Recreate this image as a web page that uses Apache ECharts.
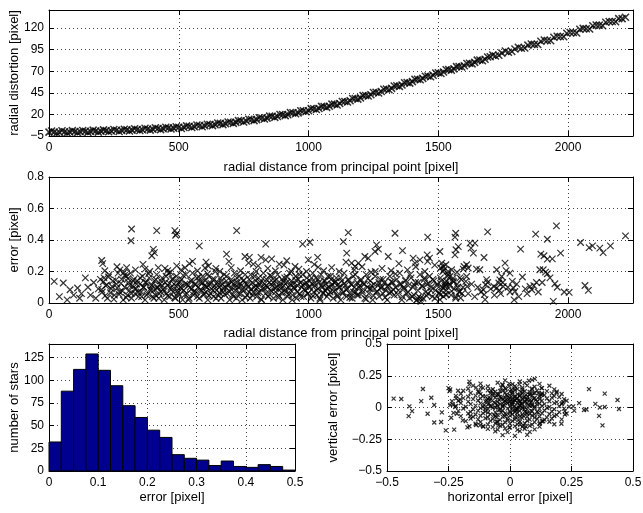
<!DOCTYPE html>
<html><head><meta charset="utf-8">
<script src="https://cdn.jsdelivr.net/npm/echarts@6/dist/echarts.min.js"></script>
<style>html,body{margin:0;padding:0;background:#fff}#c{width:643px;height:513px}</style>
</head><body><div id="c"></div>
<script>
// ---- data ----
// top: radial distance [pixel] vs radial distortion [pixel]
const distortionPoints = [
[0,-0.5],[20,-0.3],[40,-0.6],[60,-0.1],[80,-0.3],[100,0.2],[120,-0.1],[140,0.5],[160,0.3],[180,0.8],
[200,0.6],[220,1.2],[240,0.9],[260,1.6],[280,1.4],[300,2.1],[320,1.8],[340,2.6],[360,2.3],[380,3.1],
[400,2.9],[420,3.7],[440,3.3],[460,4.4],[480,4.1],[500,5.2],[520,4.9],[540,6.2],[560,5.8],[580,7.2],
[600,6.8],[620,8.3],[640,8.0],[660,9.6],[680,9.3],[700,11.0],[720,10.8],[740,12.6],[760,12.3],[780,14.2],
[800,14.0],[820,15.9],[840,15.7],[860,17.8],[880,17.6],[900,19.8],[920,19.6],[940,22.0],[960,21.8],[980,24.3],
[1000,24.2],[1020,26.6],[1040,26.9],[1060,29.2],[1080,29.4],[1100,31.9],[1120,32.6],[1140,35.0],[1160,35.9],[1180,38.4],
[1200,39.2],[1220,42.0],[1240,42.8],[1260,45.6],[1280,46.5],[1300,49.4],[1320,50.2],[1340,53.2],[1360,54.1],[1380,57.0],
[1400,58.0],[1420,60.8],[1440,61.8],[1460,64.5],[1480,65.4],[1500,68.2],[1520,69.2],[1540,71.9],[1560,72.8],[1580,75.6],
[1600,76.5],[1620,79.4],[1640,80.3],[1660,83.1],[1680,84.0],[1700,86.9],[1720,87.6],[1745,91.0],[1770,92.0],[1795,95.8],
[1820,96.6],[1845,100.3],[1870,101.2],[1895,104.8],[1920,105.6],[1945,109.4],[1970,110.3],[1995,114.0],[2020,114.9],[2045,118.6],
[2070,119.2],[2095,122.8],[2120,123.5],[2145,126.9],[2170,127.6],[2195,131.0],[2221,132.6],
[10,0.8],[30,-1.6],[50,1.0],[70,-1.4],[90,1.2],[110,-1.1],[130,1.4],[150,-0.8],[170,1.8],[190,-0.5],
[210,2.1],[230,-0.1],[250,2.5],[270,0.3],[290,2.9],[310,0.7],[330,3.4],[350,1.3],[370,3.9],[390,1.8],
[410,4.5],[430,2.4],[450,5.2],[470,3.1],[490,5.8],[510,3.8],[530,6.7],[550,4.8],[570,7.7],[590,5.8],
[610,8.7],[630,7.0],[650,10.0],[670,8.2],[690,11.3],[710,9.6],[730,12.8],[750,11.2],[770,14.4],[790,12.8],
[810,16.1],[830,14.6],[850,18.0],[870,16.6],[890,19.9],[910,18.6],[930,22.1],[950,20.8],[970,24.3],[990,23.0],
[1010,26.7],[1030,25.6],[1050,29.3],[1070,28.2],[1090,31.9],[1110,30.9],[1130,35.0],[1150,34.3],[1170,38.4],[1190,37.7],
[1210,41.8],[1230,41.3],[1250,45.5],[1270,44.9],[1290,49.2],[1310,48.7],[1330,53.0],[1350,52.5],[1370,56.8],[1390,56.3],
[1410,60.6],[1430,60.1],[1450,64.3],[1470,63.7],[1490,68.0],[1510,67.4],[1530,71.7],[1550,71.2],[1570,75.4],[1590,74.9],
[1610,79.1],[1630,78.6],[1650,82.9],[1670,82.3],[1690,86.6],[1710,88.9],[1733,88.6],[1758,93.6],[1783,92.9],[1808,97.8],
[1833,96.9],[1858,101.5],[1883,101.0],[1908,106.2],[1933,105.4],[1958,110.6],[1983,110.0],[2008,114.9],[2033,114.3],[2058,119.7],
[2083,118.9],[2108,123.6],[2133,122.8],[2158,127.6],[2183,127.3],[2208,131.0]
];
// middle: radial distance [pixel] vs error [pixel]
const errorPoints = [
[20,0.137],[40,0.04],[55,0.127],[70,0.02],[81,0.084],[95,0.05],[110,0.095],[118,0.03],
[125,0.06],[140,0.16],[150,0.1],[160,0.05],[172,0.13],[180,0.03],[190,0.09],[198,0.15],
[203,0.27],[207,0.25],[273,0.21],[299,0.225],[318,0.47],[316,0.395],[415,0.46],[402,0.34],[406,0.32],[396,0.30],
[485,0.46],[492,0.44],[488,0.43],[579,0.363],[723,0.46],[684,0.31],[835,0.374],[977,0.374],[1005,0.386],[999,0.274],
[1035,0.29],[916,0.268],[835,0.274],[858,0.28],[817,0.29],[755,0.295],[772,0.29],[553,0.264],[605,0.26],[693,0.264],
[370,0.215],[447,0.22],[457,0.206],[492,0.236],[524,0.224],[601,0.222],[643,0.22],[787,0.247],[806,0.236],[887,0.247],
[948,0.232],[1037,0.228],
[215,0.205],[262,0.23],[289,0.195],[333,0.21],[362,0.245],[388,0.2],[421,0.225],[468,0.195],[509,0.21],[541,0.25],
[572,0.205],[614,0.235],[658,0.2],[702,0.225],[738,0.205],[769,0.255],[798,0.2],[843,0.22],[872,0.205],[905,0.24],
[934,0.2],[963,0.215],[992,0.2],[1022,0.245],[1058,0.205],[1089,0.225],[1118,0.2],[1144,0.26],[1176,0.21],[1206,0.23],
[1241,0.195],[1283,0.22],[1318,0.205],[1348,0.25],[1381,0.21],[1413,0.23],[1448,0.2],[1486,0.24],[1572,0.195],[1596,0.215],
[205,0.07],[212,0.16],[218,0.11],[225,0.03],[232,0.18],[240,0.09],[246,0.14],[252,0.05],[260,0.12],[266,0.19],[272,0.07],[280,0.15],[286,0.02],[292,0.1],[298,0.17],
[302,0.05],[306,0.13],[310,0.08],[314,0.19],[318,0.03],[322,0.11],[327,0.15],[331,0.06],[336,0.09],[340,0.14],[345,0.04],[350,0.12],[355,0.07],[360,0.17],[365,0.1],[370,0.02],[375,0.13],[380,0.06],[386,0.16],[390,0.09],[395,0.11],[399,0.04],
[403,0.08],[407,0.14],[411,0.05],[415,0.18],[419,0.1],[423,0.03],[427,0.12],[431,0.07],[436,0.16],[440,0.09],[444,0.02],[448,0.13],[452,0.06],[457,0.11],[461,0.19],[465,0.04],[470,0.1],[474,0.15],[478,0.07],[482,0.12],[487,0.03],[491,0.17],[495,0.08],[499,0.13],
[503,0.05],[507,0.1],[511,0.15],[515,0.02],[519,0.08],[523,0.12],[528,0.18],[532,0.06],[536,0.11],[540,0.03],[545,0.14],[549,0.09],[553,0.19],[557,0.05],[562,0.12],[566,0.07],[570,0.16],[575,0.1],[579,0.03],[583,0.13],[588,0.08],[592,0.17],[596,0.05],[599,0.11],
[602,0.14],[605,0.07],[609,0.1],[612,0.02],[616,0.17],[619,0.12],[623,0.06],[627,0.09],[630,0.15],[634,0.04],[638,0.11],[641,0.2],[645,0.08],[649,0.13],[652,0.05],[656,0.1],[660,0.16],[663,0.03],[667,0.12],[671,0.07],[675,0.18],[679,0.1],[683,0.14],[687,0.06],[691,0.11],[696,0.02],
[700,0.09],[703,0.15],[707,0.05],[711,0.12],[714,0.19],[718,0.08],[722,0.03],[725,0.13],[729,0.1],[733,0.17],[737,0.06],[741,0.11],[744,0.02],[748,0.14],[752,0.08],[756,0.18],[760,0.12],[763,0.05],[767,0.1],[771,0.15],[775,0.03],[779,0.09],[783,0.13],[787,0.07],[792,0.17],[796,0.11],
[800,0.04],[804,0.1],[807,0.16],[811,0.07],[815,0.13],[819,0.02],[822,0.09],[826,0.19],[830,0.12],[834,0.06],[838,0.15],[842,0.1],[845,0.04],[849,0.13],[853,0.08],[857,0.17],[861,0.11],[865,0.03],[869,0.14],[873,0.07],[877,0.1],[881,0.18],[885,0.05],[889,0.12],[893,0.09],[897,0.15],
[901,0.02],[904,0.11],[908,0.16],[912,0.07],[916,0.13],[919,0.04],[923,0.1],[927,0.19],[931,0.08],[935,0.14],[938,0.05],[942,0.12],[946,0.09],[950,0.17],[954,0.03],[957,0.11],[961,0.15],[965,0.06],[969,0.13],[973,0.1],[977,0.18],[981,0.04],[985,0.12],[989,0.08],[993,0.16],[997,0.06],
[1001,0.1],[1005,0.14],[1009,0.03],[1013,0.12],[1016,0.19],[1020,0.07],[1024,0.11],[1028,0.16],[1032,0.05],[1036,0.09],[1040,0.13],[1044,0.02],[1048,0.18],[1052,0.1],[1056,0.06],[1060,0.14],[1063,0.08],[1067,0.12],[1071,0.04],[1075,0.17],[1079,0.1],[1083,0.07],[1087,0.15],[1091,0.11],[1095,0.03],[1099,0.13],
[1103,0.08],[1107,0.16],[1111,0.05],[1115,0.12],[1120,0.1],[1124,0.02],[1128,0.14],[1133,0.07],[1137,0.19],[1141,0.11],[1146,0.04],[1150,0.09],[1154,0.15],[1159,0.06],[1163,0.12],[1168,0.03],[1172,0.17],[1177,0.1],[1182,0.07],[1187,0.13],[1192,0.05],[1197,0.11],
[1202,0.15],[1207,0.08],[1212,0.12],[1217,0.03],[1222,0.18],[1227,0.1],[1232,0.06],[1237,0.14],[1242,0.09],[1247,0.02],[1252,0.12],[1257,0.17],[1262,0.07],[1267,0.11],[1272,0.04],[1277,0.15],[1282,0.1],[1287,0.06],[1292,0.13],[1297,0.08],
[1303,0.02],[1308,0.11],[1313,0.17],[1319,0.07],[1324,0.13],[1330,0.05],[1335,0.1],[1340,0.15],[1346,0.08],[1351,0.19],[1356,0.12],[1362,0.04],[1367,0.09],[1373,0.14],[1378,0.06],[1384,0.11],[1389,0.03],[1395,0.16],
[1402,0.1],[1407,0.05],[1412,0.13],[1417,0.02],[1421,0.08],[1425,0.04],[1429,0.18],[1433,0.01],[1437,0.11],[1441,0.03],[1446,0.15],[1451,0.07],[1456,0.12],[1461,0.06],[1466,0.17],[1472,0.1],[1477,0.04],[1483,0.14],[1489,0.08],[1495,0.12],
[1502,0.06],[1508,0.16],[1514,0.1],[1520,0.04],[1526,0.13],[1531,0.08],[1537,0.18],[1543,0.11],[1549,0.05],[1555,0.14],[1561,0.09],[1567,0.03],[1573,0.12],[1580,0.07],[1588,0.15],[1595,0.1],
[1615,0.06],[1628,0.12],[1640,0.04],[1652,0.1],[1664,0.07],[1690,0.13],[1702,0.09],[1716,0.05],[1740,0.06],[1748,0.13],[1768,0.1],[1776,0.07],[1802,0.12],[1810,0.04],[1835,0.09],[1842,0.06],[1868,0.11],[1885,0.07],[1900,0.13],[1930,0.16],[1958,0.1],[1985,0.07],
[203,0.085],[209,0.135],[216,0.045],[223,0.115],[229,0.165],[237,0.065],[243,0.105],[250,0.025],[257,0.145],[263,0.095],[270,0.055],[277,0.125],[283,0.075],[291,0.175],[297,0.035],[304,0.155],[311,0.11],[317,0.06],[324,0.14],[330,0.09],
[338,0.12],[344,0.07],[351,0.16],[357,0.04],[364,0.1],[371,0.13],[377,0.05],[384,0.185],[391,0.08],[397,0.115],[404,0.03],[411,0.15],[417,0.095],[424,0.06],[431,0.14],[437,0.11],[444,0.075],[451,0.17],[457,0.045],[464,0.125],
[471,0.085],[477,0.155],[484,0.035],[491,0.105],[497,0.065],[504,0.135],[511,0.09],[517,0.175],[524,0.055],[531,0.12],[537,0.02],[544,0.1],[551,0.145],[557,0.07],[564,0.115],[571,0.04],[577,0.165],[584,0.085],[591,0.13],[597,0.06],
[604,0.105],[611,0.185],[617,0.045],[624,0.125],[631,0.08],[637,0.15],[644,0.03],[651,0.11],[657,0.065],[664,0.14],[671,0.095],[677,0.055],[684,0.17],[691,0.12],[697,0.075],[704,0.135],[711,0.04],[717,0.1],[724,0.16],[731,0.06],
[737,0.125],[744,0.085],[751,0.145],[757,0.035],[764,0.115],[771,0.07],[777,0.18],[784,0.05],[791,0.1],[797,0.14],[804,0.065],[811,0.12],[817,0.025],[824,0.155],[831,0.09],[837,0.11],[844,0.045],[851,0.175],[857,0.075],[864,0.13],
[871,0.095],[877,0.15],[884,0.035],[891,0.105],[897,0.065],[904,0.135],[911,0.085],[917,0.165],[924,0.055],[931,0.12],[937,0.02],[944,0.1],[951,0.145],[957,0.07],[964,0.18],[971,0.04],[977,0.115],[984,0.085],[991,0.13],[997,0.06],
[1004,0.105],[1011,0.16],[1017,0.045],[1024,0.125],[1031,0.08],[1037,0.15],[1044,0.03],[1051,0.11],[1057,0.065],[1064,0.14],[1071,0.095],[1077,0.055],[1084,0.17],[1091,0.12],[1097,0.075],[1104,0.135],[1111,0.04],[1117,0.1],[1124,0.16],[1131,0.06],
[1138,0.125],[1145,0.085],[1152,0.145],[1159,0.035],[1166,0.115],[1173,0.07],[1180,0.18],[1187,0.05],[1194,0.1],[1201,0.14],[1208,0.065],[1215,0.12],[1222,0.025],[1229,0.155],[1236,0.09],[1243,0.11],[1250,0.045],[1257,0.2],[1264,0.075],[1271,0.13],
[1279,0.095],[1287,0.15],[1295,0.035],[1303,0.105],[1311,0.065],[1319,0.135],[1327,0.085],[1335,0.185],[1343,0.055],[1351,0.12],[1359,0.02],[1367,0.1],[1375,0.145],[1383,0.07],[1391,0.18],[1399,0.04],[1407,0.115],[1415,0.015],[1423,0.13],[1431,0.03],
[1439,0.105],[1447,0.16],[1455,0.045],[1463,0.125],[1471,0.08],[1479,0.15],[1487,0.03],[1495,0.11],[1503,0.065],[1511,0.14],[1519,0.095],[1527,0.055],[1535,0.17],[1543,0.12],[1551,0.075],[1559,0.135],[1567,0.04],[1575,0.1],[1583,0.16],[1591,0.06],
[1153,0.447],[1134,0.39],[1333,0.443],[1459,0.418],[1567,0.443],[1564,0.418],[1690,0.452],[1875,0.437],[1920,0.405],[1955,0.49],
[2221,0.426],[2048,0.384],[2081,0.352],[2094,0.363],[2122,0.348],[2135,0.32],[2163,0.363],[2065,0.111],[2078,0.08],[2004,0.067],
[1943,0.01],[1949,0.122],[1971,0.317],[1895,0.31],[1907,0.3],[1920,0.279],[1939,0.28],[1891,0.211],[1904,0.211],[1913,0.196],
[1920,0.186],[1878,0.13],[1853,0.105],[1860,0.084],[1824,0.165],[1817,0.342],[1785,0.137],[1789,0.095],[1795,0.073],[1792,0.02],
[1757,0.253],[1761,0.206],[1725,0.211],[1776,0.19],[1744,0.168],[1737,0.147],[1733,0.127],[1714,0.105],[1725,0.095],[1735,0.08],
[1750,0.105],[1676,0.289],[1686,0.148],[1682,0.116],[1673,0.084],[1677,0.053],[1680,0.021],[1660,0.211],[1647,0.215],[1635,0.317],
[1626,0.348],[1622,0.38],[1641,0.38],[1609,0.243],[1599,0.232],[1615,0.222],[1609,0.168],[1606,0.137],[1611,0.105],[1583,0.073],
[1586,0.032],[1568,0.338],[1577,0.358],[1564,0.306],[1532,0.137],[1529,0.116],[1525,0.105],[1506,0.327],[1513,0.253],[1519,0.232],
[1522,0.211],[1509,0.222],[1529,0.243],[1517,0.2],[1538,0.2],[1545,0.168],[1557,0.158],[1551,0.211],[1506,0.021],[1509,0.053],
[1532,0.053],[1457,0.306],[1459,0.264],[1466,0.285],[1429,0.274],[1403,0.285],[1410,0.253],[1362,0.333],[1307,0.295],[1262,0.369],
[1269,0.342],[1256,0.327],[1217,0.295],[1230,0.285],[1147,0.317],[1166,0.253],[1179,0.232],[1192,0.253]
];
// bottom-left histogram of errors
const histBinLeft = [0,0.025,0.05,0.075,0.1,0.125,0.15,0.175,0.2,0.225,0.25,0.275,0.3,0.325,0.35,0.375,0.4,0.425,0.45,0.475];
const histBinWidth = 0.025;
const histCounts = [32,88,112,129,111,94,72,59,45,37,18,14,12,6,11,5,4,7,5,1];
// bottom-right: horizontal error vs vertical error [pixel]
const residualPoints = [
[-0.02,0.214],[0.04,0.205],[0.09,0.218],
[-0.12,0.188],[-0.05,0.195],[0.01,0.183],[0.06,0.192],[0.12,0.186],
[-0.15,0.172],[-0.09,0.165],[-0.03,0.176],[0.02,0.168],[0.07,0.174],[0.1,0.163],[0.16,0.171],
[-0.17,0.148],[-0.11,0.155],[-0.07,0.144],[-0.02,0.152],[0.03,0.146],[0.05,0.157],[0.09,0.149],[0.13,0.153],[0.18,0.143],
[-0.19,0.132],[-0.13,0.126],[-0.09,0.135],[-0.06,0.124],[-0.03,0.131],[0.0,0.127],[0.02,0.137],[0.06,0.128],[0.08,0.122],[0.11,0.134],[0.15,0.129],[0.19,0.125],
[-0.2,0.108],[-0.16,0.114],[-0.12,0.105],[-0.08,0.112],[-0.05,0.103],[-0.02,0.116],[0.01,0.109],[0.03,0.104],[0.05,0.113],[0.08,0.107],[0.1,0.115],[0.13,0.102],[0.17,0.111],[0.21,0.106],
[-0.22,0.092],[-0.17,0.085],[-0.14,0.094],[-0.1,0.088],[-0.07,0.096],[-0.04,0.083],[-0.01,0.091],[0.02,0.086],[0.04,0.095],[0.06,0.084],[0.09,0.093],[0.12,0.087],[0.14,0.097],[0.18,0.089],[0.2,0.082],
[-0.19,0.074],[-0.15,0.066],[-0.12,0.072],[-0.09,0.065],[-0.06,0.077],[-0.03,0.068],[0.0,0.073],[0.01,0.063],[0.03,0.076],[0.05,0.069],[0.07,0.064],[0.1,0.075],[0.12,0.067],[0.15,0.071],[0.17,0.078],[0.22,0.066],
[-0.21,0.053],[-0.17,0.046],[-0.13,0.055],[-0.1,0.048],[-0.08,0.057],[-0.05,0.044],[-0.02,0.052],[0.0,0.047],[0.02,0.056],[0.04,0.043],[0.06,0.051],[0.08,0.058],[0.11,0.045],[0.13,0.054],[0.16,0.049],[0.19,0.042],[0.23,0.053],
[-0.2,0.034],[-0.16,0.026],[-0.12,0.032],[-0.09,0.025],[-0.06,0.036],[-0.04,0.028],[-0.01,0.033],[0.01,0.024],[0.03,0.037],[0.05,0.029],[0.07,0.035],[0.09,0.023],[0.12,0.031],[0.14,0.027],[0.18,0.034],[0.21,0.026],
[-0.22,0.012],[-0.18,0.006],[-0.14,0.015],[-0.11,0.004],[-0.08,0.013],[-0.05,0.007],[-0.03,0.016],[0.0,0.005],[0.02,0.011],[0.04,0.017],[0.06,0.003],[0.08,0.014],[0.1,0.008],[0.13,0.013],[0.16,0.004],[0.2,0.011],[0.24,0.006],
[-0.19,-0.008],[-0.15,-0.014],[-0.12,-0.005],[-0.09,-0.012],[-0.07,-0.003],[-0.04,-0.016],[-0.01,-0.009],[0.01,-0.004],[0.03,-0.013],[0.05,-0.007],[0.07,-0.015],[0.1,-0.006],[0.12,-0.011],[0.15,-0.003],[0.18,-0.014],[0.22,-0.009],
[-0.21,-0.027],[-0.16,-0.034],[-0.13,-0.025],[-0.1,-0.032],[-0.06,-0.036],[-0.03,-0.024],[0.0,-0.031],[0.02,-0.037],[0.04,-0.026],[0.06,-0.033],[0.09,-0.028],[0.11,-0.035],[0.14,-0.024],[0.17,-0.03],[0.2,-0.036],
[-0.17,-0.047],[-0.14,-0.055],[-0.11,-0.044],[-0.08,-0.052],[-0.05,-0.057],[-0.02,-0.046],[0.01,-0.053],[0.03,-0.043],[0.05,-0.056],[0.08,-0.049],[0.1,-0.054],[0.13,-0.045],[0.16,-0.051],[0.19,-0.058],[0.23,-0.047],
[-0.2,-0.068],[-0.15,-0.074],[-0.12,-0.065],[-0.09,-0.077],[-0.06,-0.066],[-0.03,-0.072],[0.0,-0.064],[0.02,-0.076],[0.04,-0.069],[0.07,-0.073],[0.09,-0.063],[0.12,-0.071],[0.15,-0.078],[0.18,-0.067],
[-0.16,-0.088],[-0.13,-0.094],[-0.1,-0.085],[-0.07,-0.092],[-0.04,-0.097],[-0.01,-0.086],[0.02,-0.093],[0.05,-0.084],[0.08,-0.095],[0.11,-0.089],[0.14,-0.096],[0.17,-0.087],[0.21,-0.093],
[-0.18,-0.107],[-0.12,-0.114],[-0.08,-0.105],[-0.05,-0.112],[-0.02,-0.116],[0.01,-0.106],[0.04,-0.113],[0.07,-0.104],[0.1,-0.115],[0.13,-0.108],[0.16,-0.112],
[-0.14,-0.128],[-0.09,-0.134],[-0.06,-0.125],[-0.03,-0.136],[0.0,-0.127],[0.03,-0.133],[0.06,-0.124],[0.09,-0.135],[0.12,-0.129],[0.18,-0.132],
[-0.11,-0.148],[-0.07,-0.154],[-0.04,-0.145],[0.0,-0.156],[0.02,-0.147],[0.05,-0.153],[0.08,-0.144],[0.12,-0.151],
[-0.09,-0.168],[-0.05,-0.174],[-0.02,-0.165],[0.03,-0.176],[0.06,-0.167],[0.1,-0.172],
[-0.06,-0.188],[-0.01,-0.194],[0.04,-0.186],[0.08,-0.192],
[-0.03,-0.218],[0.02,-0.224],[0.07,-0.216],
[-0.045,0.06],[0.015,0.04],[-0.025,0.02],[0.035,0.0],[0.055,0.08],[-0.065,0.04],[0.025,-0.02],[-0.015,0.1],[0.045,0.12],[-0.035,-0.04],
[0.065,-0.04],[0.085,0.04],[-0.085,0.08],[0.105,0.06],[-0.055,-0.08],[0.005,0.14],[0.035,-0.1],[-0.105,0.02],[0.125,0.1],[-0.125,0.12],
[-0.095,0.055],[-0.075,0.01],[-0.055,0.095],[-0.045,-0.02],[-0.035,0.075],[-0.025,0.045],[-0.015,-0.055],[-0.005,0.065],[0.005,0.025],[0.015,0.085],
[0.025,-0.01],[0.035,0.055],[0.045,0.03],[0.055,-0.065],[0.065,0.1],[0.075,0.02],[0.085,-0.025],[0.095,0.07],
[-0.09,-0.04],[-0.07,0.11],[-0.06,0.0],[-0.04,0.13],[-0.02,0.08],[-0.01,0.035],[0.0,-0.04],[0.01,0.12],[0.02,0.06],[0.03,-0.07],
[0.04,0.09],[0.05,0.005],[0.06,0.04],[0.07,-0.045],[0.08,0.1],[0.09,0.015],[0.1,-0.08],
[-0.085,0.03],[-0.065,-0.06],[-0.045,0.105],[-0.03,0.005],[-0.015,0.06],[0.0,0.095],[0.012,-0.025],[0.028,0.07],[0.042,0.045],[0.058,-0.015],
[0.072,0.085],[0.088,0.05],[-0.078,0.07],[-0.052,0.02],[-0.022,-0.07],[0.008,0.045],[0.038,0.015],[0.068,0.06],[-0.11,0.09],[0.11,0.025],
[-0.1,-0.01],[0.115,-0.04],[-0.008,-0.1],[0.018,0.15],
[-0.473,0.07],[-0.442,0.067],[-0.354,0.146],[-0.409,0.009],[-0.398,-0.029],[-0.412,-0.068],[-0.361,0.05],[-0.32,0.077],[-0.308,0.02],[-0.335,-0.049],
[-0.277,-0.038],[-0.308,-0.118],[-0.28,-0.114],[-0.261,-0.18],[-0.227,-0.174],[-0.239,-0.081],[-0.165,0.204],[-0.165,0.182],[-0.25,0.152],[-0.243,0.142],
[-0.211,0.132],[-0.138,0.156],[-0.119,0.159],[-0.077,0.132],[-0.036,0.156],[-0.017,0.145],[-0.031,0.182],[-0.003,0.188],[-0.003,0.168],[0.038,0.182],
[0.077,0.211],[0.101,0.225],[0.05,0.142],[0.088,0.145],[0.128,0.152],[0.095,0.113],[0.115,0.112],[0.13,0.112],[0.189,0.116],[0.212,0.033],
[0.216,0.041],[0.257,0.009],[0.281,0.035],[0.321,0.145],[0.347,0.028],[0.365,0.0],[0.385,0.004],[0.362,-0.066],[0.376,-0.141],[0.385,0.109],
[0.437,0.059],[0.443,-0.012],[0.301,-0.02],[0.311,-0.016],[0.261,-0.025],[0.223,-0.055],[0.223,-0.029],[0.209,-0.128],[0.135,-0.108],[0.122,-0.121],
[0.065,-0.151],[0.054,-0.141],[0.041,-0.134],[-0.003,-0.158],[-0.047,-0.141],[-0.054,-0.114],[-0.108,-0.15],[-0.122,-0.141],[-0.173,-0.157],[-0.165,-0.148],
[-0.138,-0.138],[-0.192,-0.101],[-0.162,-0.068],[-0.246,0.129],[-0.203,0.063],[-0.219,0.072],[-0.236,0.05],[-0.243,0.02],[-0.232,0.024],[-0.223,0.004],
[-0.23,-0.042],[-0.216,-0.049]
];
// tick settings
const topXTicks = {min:0, max:2250, interval:500};
const topYTicks = {min:-5, max:141, interval:25};
const midYTicks = {min:0, max:0.8, interval:0.2};
const histXTicks = {min:0, max:0.5, interval:0.1};
const histYTicks = {min:0, max:140, interval:25};
const residTicks = {min:-0.5, max:0.5, interval:0.25};

// ---- chart ----
const FONT = '"Liberation Sans", Arial, Helvetica, sans-serif';
const minus = v => { const s = String(+v.toFixed(4)); return s.replace('-', '\u2212'); };
const axisLine = {show:true, onZero:false, lineStyle:{color:'#000', width:1}};
const axisTick = {show:true, inside:true, length:5, lineStyle:{color:'#000', width:1}};
const splitLine = {show:true, lineStyle:{color:'#444', width:1, type:[1,3]}};

function mainAxis(g, pos, t, name, nameGap, showMax) {
  return {type:'value', gridIndex:g, position:pos, min:t.min, max:t.max, interval:t.interval,
    name:name, nameLocation:'middle', nameGap:nameGap, nameMoveOverlap:false,
    nameTextStyle:{color:'#000', fontSize:13, fontFamily:FONT},
    axisLine, axisTick, splitLine,
    axisLabel:{color:'#000', fontSize:12, fontFamily:FONT, margin:(pos==='bottom'?6:5), showMaxLabel:showMax, formatter:minus}
  };
}
function sideAxis(g, pos, t) {
  return {type:'value', gridIndex:g, position:pos, min:t.min, max:t.max, interval:t.interval,
    axisLine, axisTick, splitLine:{show:false}, axisLabel:{show:false}};
}
const crossSym = 'path://M0,0L10,10M10,0L0,10';

const grids = [
  {left:49, top:10, width:584, height:126},
  {left:49, top:177, width:584, height:126},
  {left:49, top:344, width:246, height:127},
  {left:387, top:344, width:246, height:127}
];
const xName = 'radial distance from principal point [pixel]';
const option = {
  animation:false,
  backgroundColor:'#fff',
  grid: grids.map(g => Object.assign({containLabel:false, outerBoundsMode:'none'}, g)),
  xAxis:[
    mainAxis(0,'bottom',topXTicks,xName,25,false),
    mainAxis(1,'bottom',topXTicks,xName,24,false),
    mainAxis(2,'bottom',histXTicks,'error [pixel]',20,true),
    mainAxis(3,'bottom',residTicks,'horizontal error [pixel]',20,true),
    sideAxis(0,'top',topXTicks), sideAxis(1,'top',topXTicks), sideAxis(2,'top',histXTicks), sideAxis(3,'top',residTicks)
  ],
  yAxis:[
    mainAxis(0,'left',topYTicks,'radial distortion [pixel]',28,false),
    mainAxis(1,'left',midYTicks,'error [pixel]',28,true),
    mainAxis(2,'left',histYTicks,'number of stars',28,false),
    mainAxis(3,'left',residTicks,'vertical error [pixel]',47,true),
    sideAxis(0,'right',topYTicks), sideAxis(1,'right',midYTicks), sideAxis(2,'right',histYTicks), sideAxis(3,'right',residTicks)
  ],
  series:[
    {type:'scatter', xAxisIndex:0, yAxisIndex:0, data:distortionPoints, symbol:crossSym, symbolSize:7,
      itemStyle:{color:'rgba(0,0,0,0)', borderColor:'#000', borderWidth:1.5}, silent:true},
    {type:'scatter', xAxisIndex:1, yAxisIndex:1, data:errorPoints, symbol:crossSym, symbolSize:6.5,
      itemStyle:{color:'rgba(0,0,0,0)', borderColor:'#000', borderWidth:1.2}, silent:true},
    {type:'custom', xAxisIndex:2, yAxisIndex:2, silent:true,
      data: histCounts.map((c,i) => [histBinLeft[i], histBinLeft[i] + histBinWidth, c]),
      encode:{x:[0,1], y:2},
      renderItem(params, api) {
        const p0 = api.coord([api.value(0), 0]);
        const p1 = api.coord([api.value(1), api.value(2)]);
        return {type:'rect', shape:{x:p0[0], y:p1[1], width:p1[0]-p0[0], height:p0[1]-p1[1]},
          style:{fill:'#00008f', stroke:'#000', lineWidth:1}};
      }},
    {type:'scatter', xAxisIndex:3, yAxisIndex:3, data:residualPoints, symbol:crossSym, symbolSize:4,
      itemStyle:{color:'rgba(0,0,0,0)', borderColor:'#000', borderWidth:1.2}, silent:true}
  ]
};
const chart = echarts.init(document.getElementById('c'), null, {renderer:'canvas'});
chart.setOption(option);
</script>
</body></html>
